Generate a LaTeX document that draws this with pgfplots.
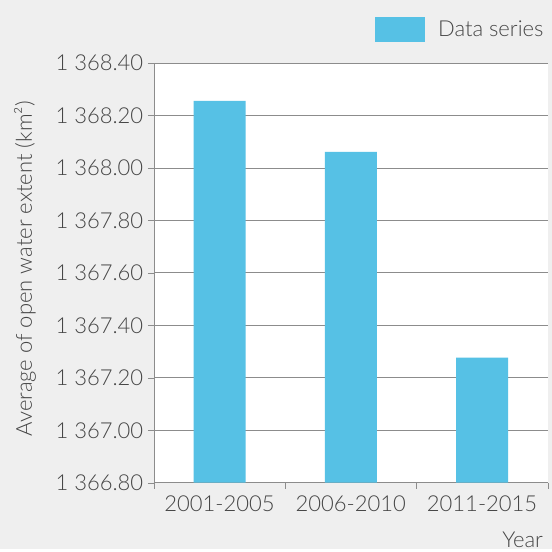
\documentclass[border=0pt]{standalone}
\usepackage{pgfplots}
\pgfplotsset{compat=1.18}
\usepackage{fontspec}
\setmainfont{Lato}[UprightFont={* Light}]
\definecolor{bg}{HTML}{EFEFEF}
\definecolor{barc}{HTML}{56C1E5}
\definecolor{txt}{HTML}{454545}
\definecolor{gridc}{HTML}{8C8C8C}
\begin{document}
\begin{tikzpicture}
\fill[bg] (0pt,0pt) rectangle (414pt,411.75pt);
\begin{axis}[
  at={(115.5pt,49.5pt)}, anchor=south west, scale only axis,
  width=295.5pt, height=315pt,
  axis background/.style={fill=white},
  xmin=-0.5, xmax=2.5, ymin=1366.8, ymax=1368.4,
  ytick={1366.8,1367.0,1367.2,1367.4,1367.6,1367.8,1368.0,1368.2,1368.4},
  xtick={0,1,2},
  xticklabels={2001-2005,2006-2010,2011-2015},
  minor xtick={-0.5,0.5,1.5,2.5},
  x tick style={draw=none},
  minor x tick style={draw=gridc},
  y tick style={draw=gridc},
  tick align=outside,
  major tick length=4.5pt, minor tick length=4.5pt,
  axis x line*=bottom, axis y line*=left,
  axis line style={draw=gridc,-},
  ymajorgrids, grid style={gridc, line width=0.6pt},
  ybar, bar width=39pt, bar shift=0pt,
  /pgf/number format/.cd, fixed, fixed zerofill, precision=2, 1000 sep={\ }, assume math mode=true,
  /pgfplots/.cd,
  tick label style={font=\fontsize{16.5}{19}\selectfont, text=txt},
  xticklabel style={yshift=-2pt},
  label style={font=\fontsize{16.5}{19}\selectfont, text=txt},
  ylabel={Average of open water extent (km²)},
  ylabel style={at={(axis description cs:-0.3274,0.5095)}, anchor=center},
  xlabel={Year},
  xlabel style={at={(axis description cs:1,-0.1357)}, anchor=east},
  legend style={at={(1,1)}, anchor=east, yshift=24.75pt, draw=none, fill=none,
    font=\fontsize{16.5}{19}\selectfont, text=txt, column sep=9.5pt, nodes={inner sep=0pt}},
  legend image code/.code={\fill[barc] (0pt,-9.375pt) rectangle (37.5pt,9.375pt);},
]
\addplot[fill=barc, draw=none] coordinates {(0,1368.255) (1,1368.061) (2,1367.277)};
\addlegendentry{Data series}
\end{axis}
\end{tikzpicture}
\end{document}
